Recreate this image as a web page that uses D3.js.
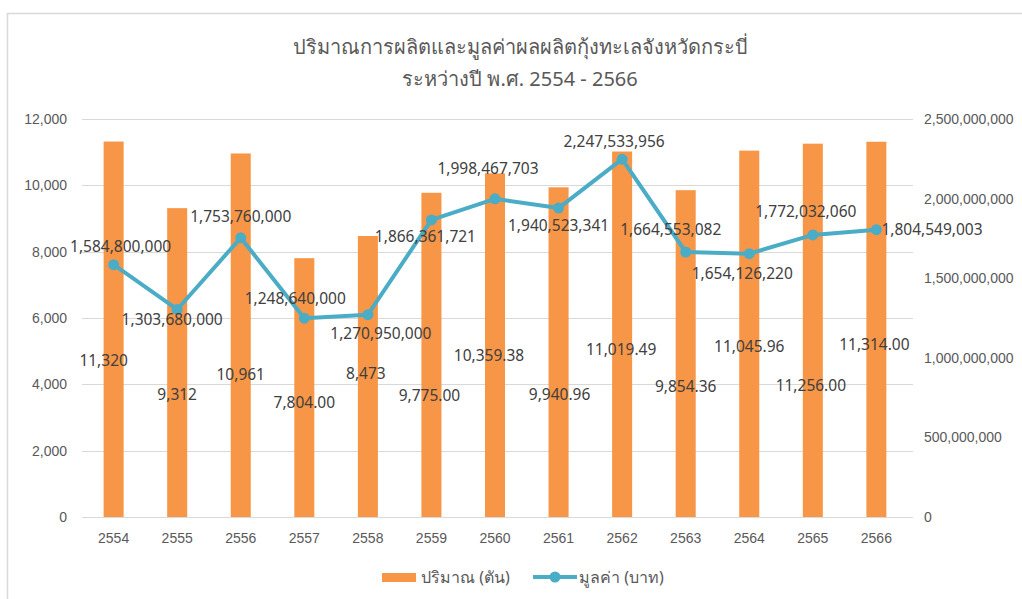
<!DOCTYPE html>
<html>
<head>
<meta charset="utf-8">
<script src="https://cdn.jsdelivr.net/npm/d3@7"></script>
<style>
  body { margin: 0; background: #fff; }
  svg { display: block; font-family: "Segoe UI", "Noto Sans", "Open Sans", sans-serif; }
</style>
</head>
<body>
<div id="chart"></div>
<script>
// data
const years = ['2554', '2555', '2556', '2557', '2558', '2559', '2560', '2561', '2562', '2563', '2564', '2565', '2566'];
const tons = [11320, 9312, 10961, 7804, 8473, 9775, 10359.38, 9940.96, 11019.49, 9854.36, 11045.96, 11256, 11314];
const tonLabels = ['11,320', '9,312', '10,961', '7,804.00', '8,473', '9,775.00', '10,359.38', '9,940.96', '11,019.49', '9,854.36', '11,045.96', '11,256.00', '11,314.00'];
const baht = [1584800000, 1303680000, 1753760000, 1248640000, 1270950000, 1866361721, 1998467703, 1940523341, 2247533956, 1664553082, 1654126220, 1772032060, 1804549003];
const leftTicks = [0, 2000, 4000, 6000, 8000, 10000, 12000];
const rightTicks = [0, 500000000, 1000000000, 1500000000, 2000000000, 2500000000];
const titleLines = ['ปริมาณการผลิตและมูลค่าผลผลิตกุ้งทะเลจังหวัดกระบี่', 'ระหว่างปี พ.ศ. 2554 - 2566'];
const legendNames = ['ปริมาณ (ตัน)', 'มูลค่า (บาท)'];

// the labels were moved by hand in the original, so keep their nudges here
// bar labels: height in tons on the left axis + x nudge in px
const tonLabelAt = [4730, 3680, 4280, 3440, 4310, 3650, 4880, 3680, 5060, 3920, 5130, 3950, 5190];
const tonLabelDx = [-10, 0, 0, 0, -2, -2, -6, 1, -1, 0, 0, -2, -2];
// line labels: px offsets from their point (last one sits to the right)
const bahtLabelDx = [7, -5, 0, -9, 13, -6, -7, 0, -8, -15, -7, -7, 5];
const bahtLabelDy = [-18, 10, -21, -20, 19, 17, -30, 18, -18, -22, 20, -23, 0];

const width = 1022, height = 599;
const margin = {top: 119, right: 114, bottom: 82, left: 82};
const orange = '#F79646', blue = '#4BACC6';
const axisGrey = '#595959', labelGrey = '#404040';

const svg = d3.select('#chart').append('svg')
  .attr('width', width)
  .attr('height', height);

// chart frame
svg.append('rect')
  .attr('x', 7.5).attr('y', 13.5)
  .attr('width', width + 10).attr('height', height + 10)
  .attr('fill', '#fff')
  .attr('stroke', '#d9d9d9').attr('stroke-width', 1.5);

const x = d3.scaleBand()
  .domain(years)
  .range([margin.left, width - margin.right])
  .paddingInner(0.685)
  .paddingOuter(0.34);

const yLeft = d3.scaleLinear().domain([0, 12000]).range([height - margin.bottom, margin.top]);
const yRight = d3.scaleLinear().domain([0, 2500000000]).range([height - margin.bottom, margin.top]);

// gridlines
svg.append('g')
  .selectAll('line')
  .data(leftTicks)
  .join('line')
  .attr('x1', margin.left).attr('x2', width - margin.right + 5)
  .attr('y1', (d) => Math.round(yLeft(d)) + 0.5)
  .attr('y2', (d) => Math.round(yLeft(d)) + 0.5)
  .attr('stroke', '#d9d9d9')
  .attr('stroke-width', 1.2);

// axes
const fmt = d3.format(',');
const leftAxis = svg.append('g')
  .attr('transform', `translate(${margin.left},0)`)
  .call(d3.axisLeft(yLeft).tickValues(leftTicks).tickFormat(fmt).tickSize(0).tickPadding(15));
const rightAxis = svg.append('g')
  .attr('transform', `translate(${width - margin.right},0)`)
  .call(d3.axisRight(yRight).tickValues(rightTicks).tickFormat(fmt).tickSize(0).tickPadding(16));
const bottomAxis = svg.append('g')
  .attr('transform', `translate(0,${height - margin.bottom})`)
  .call(d3.axisBottom(x).tickSize(0).tickPadding(16));

[leftAxis, rightAxis, bottomAxis].forEach((g) => {
  g.select('.domain').remove();
  g.selectAll('text').attr('fill', axisGrey).style('font-size', '14px');
});

// bars
svg.append('g')
  .selectAll('rect')
  .data(tons)
  .join('rect')
  .attr('x', (d, i) => x(years[i]))
  .attr('y', (d) => yLeft(d))
  .attr('width', x.bandwidth())
  .attr('height', (d) => yLeft(0) - yLeft(d))
  .attr('fill', orange);

// line
const pts = baht.map((v, i) => [x(years[i]) + x.bandwidth() / 2, yRight(v)]);
svg.append('path')
  .attr('d', d3.line()(pts))
  .attr('fill', 'none')
  .attr('stroke', blue)
  .attr('stroke-width', 4)
  .attr('stroke-linejoin', 'round')
  .attr('stroke-linecap', 'round');
svg.append('g')
  .selectAll('circle')
  .data(pts)
  .join('circle')
  .attr('cx', (d) => d[0]).attr('cy', (d) => d[1])
  .attr('r', 5.5)
  .attr('fill', blue);

// bar value labels
svg.append('g')
  .selectAll('text')
  .data(tonLabels)
  .join('text')
  .attr('x', (d, i) => x(years[i]) + x.bandwidth() / 2 + tonLabelDx[i])
  .attr('y', (d, i) => yLeft(tonLabelAt[i]))
  .attr('dy', '0.35em')
  .attr('text-anchor', 'middle')
  .attr('fill', labelGrey)
  .style('font-size', '15.5px')
  .text((d) => d);

// line value labels
const last = baht.length - 1;
svg.append('g')
  .selectAll('text')
  .data(baht)
  .join('text')
  .attr('x', (d, i) => pts[i][0] + bahtLabelDx[i])
  .attr('y', (d, i) => pts[i][1] + bahtLabelDy[i])
  .attr('dy', '0.35em')
  .attr('text-anchor', (d, i) => i === last ? 'start' : 'middle')
  .attr('fill', labelGrey)
  .style('font-size', '15.5px')
  .text((d) => fmt(d));

// title
svg.append('g')
  .selectAll('text')
  .data(titleLines)
  .join('text')
  .attr('x', 520)
  .attr('y', (d, i) => 54 + i * 32)
  .attr('text-anchor', 'middle')
  .attr('fill', axisGrey)
  .style('font-size', '20px')
  .text((d) => d);

// legend
const legend = svg.append('g').attr('transform', 'translate(0,577)');
legend.append('rect')
  .attr('x', 382).attr('y', -4).attr('width', 34).attr('height', 9)
  .attr('fill', orange);
legend.append('text')
  .attr('x', 421).attr('dy', '0.35em')
  .attr('fill', axisGrey).style('font-size', '16px')
  .text(legendNames[0]);
legend.append('line')
  .attr('x1', 533).attr('x2', 577)
  .attr('stroke', blue).attr('stroke-width', 4);
legend.append('circle')
  .attr('cx', 555).attr('r', 5.5).attr('fill', blue);
legend.append('text')
  .attr('x', 579).attr('dy', '0.35em')
  .attr('fill', axisGrey).style('font-size', '16px')
  .text(legendNames[1]);
</script>
</body>
</html>
